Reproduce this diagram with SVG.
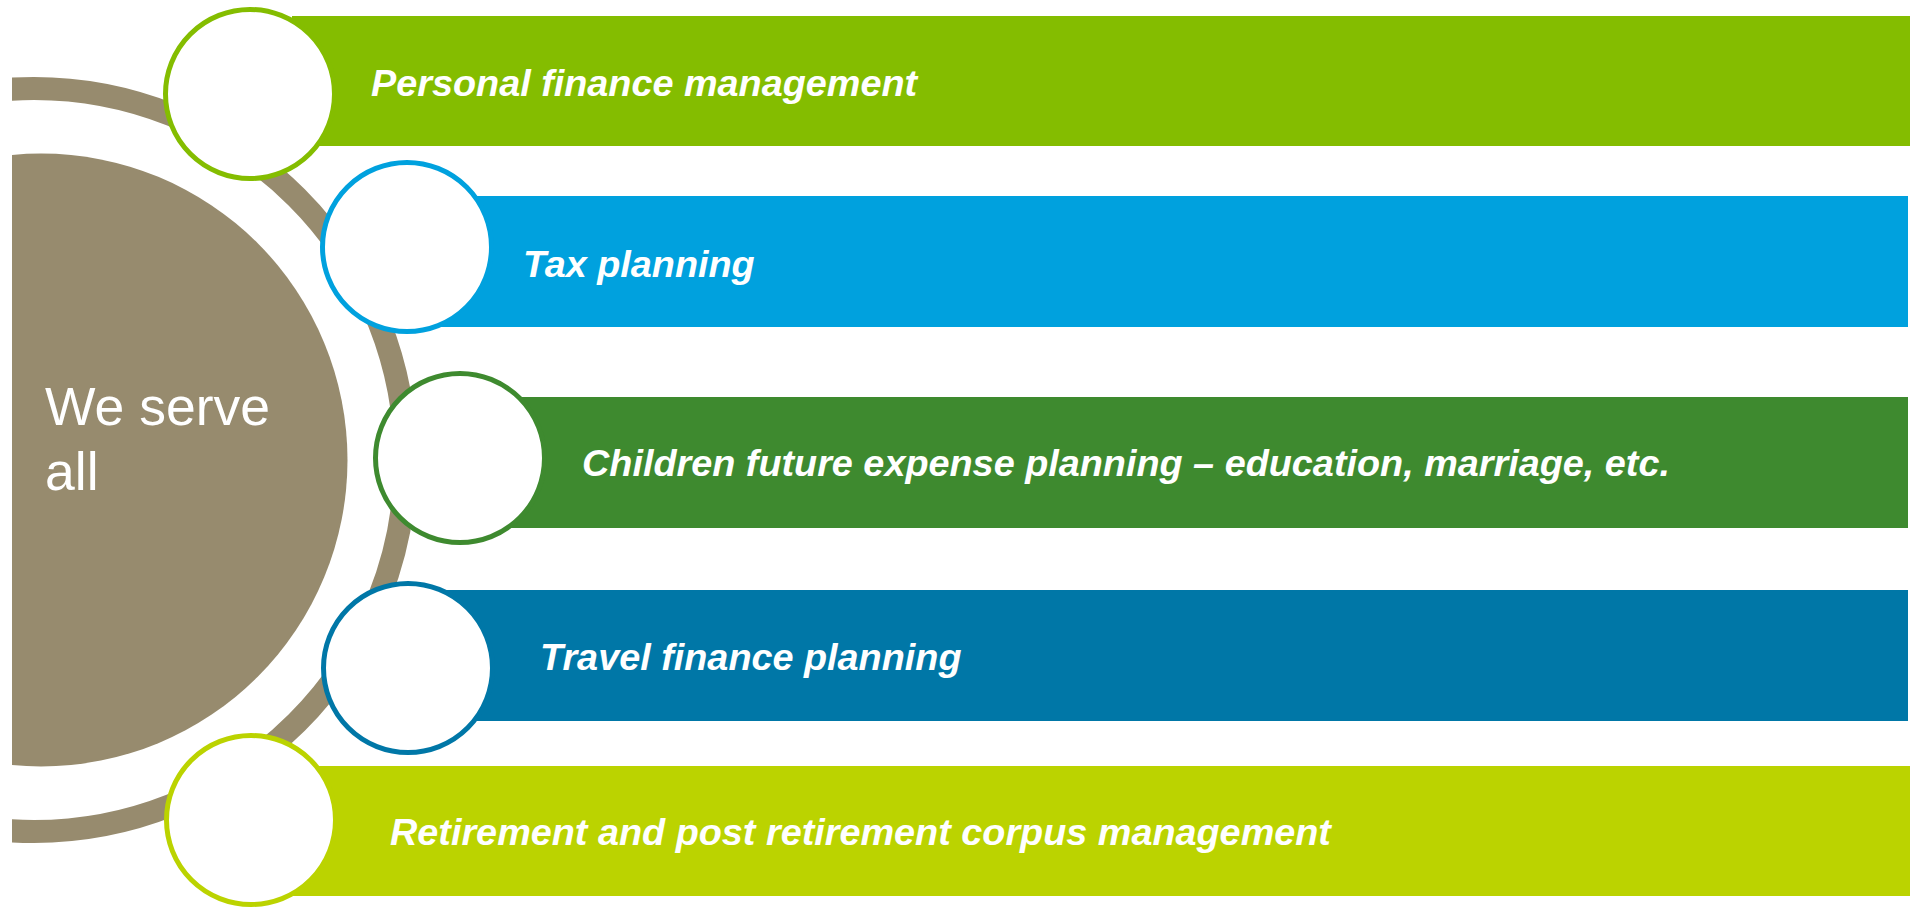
<svg xmlns="http://www.w3.org/2000/svg" width="1912" height="909" viewBox="0 0 1912 909">
<style>
.bg{fill:#ffffff}
.tan{fill:#978B6E}
.ring{fill:none;stroke:#978B6E;stroke-width:23}
.node circle{fill:#ffffff;stroke-width:5}
.lbl{font-family:"Liberation Sans",Arial,sans-serif;font-size:37.8px;font-weight:bold;font-style:italic;fill:#ffffff}
.hub{font-family:"Liberation Sans",Arial,sans-serif;font-size:53.5px;fill:#ffffff}
</style>
<defs>
<clipPath id="clipL"><rect x="12" y="0" width="1900" height="909"/></clipPath>
</defs>
<rect class="bg" x="0" y="0" width="1912" height="909"/>
<g id="hub" clip-path="url(#clipL)">
<circle class="ring" cx="34" cy="460" r="371.5"/>
<circle class="tan" cx="41" cy="460" r="306.5"/>
<text class="hub" x="45" y="425">We serve</text>
<text class="hub" x="45" y="490">all</text>
</g>
<g id="connectors"></g>
<g id="node1" class="node">
<rect x="292" y="16" width="1618" height="130" fill="#84BD00"/>
<circle cx="250" cy="94" r="84.5" stroke="#84BD00"/>
<text class="lbl" x="371" y="96">Personal finance management</text>
</g>
<g id="node2" class="node">
<rect x="407" y="196" width="1501" height="131" fill="#00A1DE"/>
<circle cx="407" cy="247" r="84.5" stroke="#00A1DE"/>
<text class="lbl" x="523" y="277">Tax planning</text>
</g>
<g id="node3" class="node">
<rect x="460" y="397" width="1448" height="131" fill="#3E8A2F"/>
<circle cx="460" cy="458" r="84.5" stroke="#3E8A2F"/>
<text class="lbl" x="582" y="476">Children future expense planning – education, marriage, etc.</text>
</g>
<g id="node4" class="node">
<rect x="408" y="590" width="1500" height="131" fill="#0077A7"/>
<circle cx="408" cy="668" r="84.5" stroke="#0077A7"/>
<text class="lbl" x="540" y="670">Travel finance planning</text>
</g>
<g id="node5" class="node">
<rect x="292" y="766" width="1618" height="130" fill="#BBD300"/>
<circle cx="251" cy="820" r="84.5" stroke="#BBD300"/>
<text class="lbl" x="390" y="845">Retirement and post retirement corpus management</text>
</g>
</svg>
